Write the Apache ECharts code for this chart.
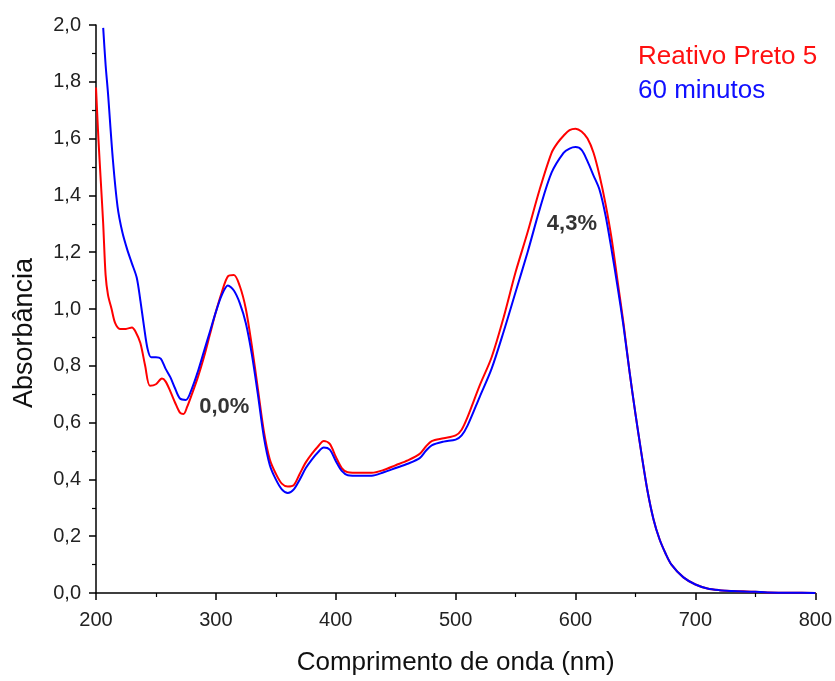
<!DOCTYPE html>
<html>
<head>
<meta charset="utf-8">
<script src="https://cdn.jsdelivr.net/npm/echarts@6/dist/echarts.min.js"></script>
<style>html,body{margin:0;padding:0;background:#fff}#c{width:835px;height:681px}</style>
</head>
<body>
<div id="c"></div>
<script>
const seriesNames = ['Reativo Preto 5', '60 minutos'];
const xTicks = [200, 300, 400, 500, 600, 700, 800];
const yTicks = [0, 0.2, 0.4, 0.6, 0.8, 1.0, 1.2, 1.4, 1.6, 1.8, 2.0];

const wlRed = [200,202,204,206,208,210,213,216,220,225,230,233,237,241,245,250,255,258,262,266,270,273,276,280,285,290,295,300,305,310,315,320,325,330,335,340,345,350,355,360,365,370,375,380,385,390,395,400,405,410,420,430,440,450,460,470,475,480,490,500,505,510,520,530,540,550,560,570,580,585,590,595,600,605,610,615,620,625,630,635,640,645,650,655,660,665,670,675,680,690,700,710,720,730,740,750,760,780,800];
const absRed = [1.78,1.60,1.45,1.30,1.12,1.05,1.00,0.95,0.93,0.93,0.935,0.92,0.88,0.80,0.73,0.735,0.755,0.745,0.71,0.67,0.635,0.63,0.655,0.70,0.76,0.83,0.91,0.99,1.06,1.115,1.12,1.08,1.00,0.87,0.72,0.57,0.47,0.42,0.385,0.375,0.38,0.42,0.46,0.49,0.515,0.535,0.525,0.48,0.44,0.425,0.423,0.423,0.433,0.45,0.467,0.49,0.515,0.535,0.545,0.555,0.575,0.62,0.73,0.83,0.97,1.13,1.27,1.42,1.55,1.585,1.61,1.63,1.635,1.625,1.60,1.55,1.47,1.37,1.25,1.10,0.95,0.78,0.63,0.49,0.36,0.26,0.19,0.14,0.10,0.055,0.03,0.016,0.01,0.007,0.006,0.004,0.002,0.001,0.0];

const wlBlue = [206,208,210,214,218,222,226,230,234,237,240,243,246,250,254,258,262,266,270,275,280,285,290,295,300,305,310,315,320,325,330,335,340,345,350,355,360,365,370,375,380,385,390,395,400,405,410,420,430,440,450,460,470,475,480,490,500,505,510,520,530,540,550,560,570,580,590,595,600,605,610,615,620,625,630,635,640,645,650,655,660,665,670,675,680,690,700,710,720,730,740,750,760,780,800];
const absBlue = [1.99,1.86,1.76,1.53,1.36,1.27,1.21,1.16,1.11,1.03,0.94,0.86,0.83,0.83,0.825,0.79,0.76,0.72,0.685,0.68,0.72,0.78,0.85,0.92,0.99,1.05,1.083,1.065,1.02,0.95,0.84,0.70,0.55,0.45,0.40,0.365,0.352,0.365,0.40,0.44,0.47,0.495,0.512,0.505,0.465,0.43,0.415,0.413,0.413,0.425,0.44,0.455,0.475,0.50,0.52,0.533,0.54,0.555,0.59,0.69,0.79,0.92,1.06,1.20,1.35,1.48,1.55,1.565,1.57,1.56,1.52,1.47,1.42,1.33,1.21,1.08,0.94,0.78,0.63,0.49,0.36,0.26,0.19,0.14,0.10,0.055,0.03,0.016,0.01,0.007,0.005,0.004,0.002,0.001,0.0];

const annoX = [307, 597];
const annoY = [0.655, 1.30];
const annoText = ['0,0%', '4,3%'];

const pairs = (xs, ys) => xs.map((x, i) => [x, ys[i]]);
const fmt = v => v.toFixed(1).replace('.', ',');
const FONT = 'Liberation Sans, Arial, sans-serif';

const chart = echarts.init(document.getElementById('c'), null, {renderer: 'canvas'});
chart.setOption({
  animation: false,
  backgroundColor: '#ffffff',
  grid: {left: 96, right: 18, top: 25, bottom: 85, containLabel: false},
  legend: {
    data: [
      {name: seriesNames[0], textStyle: {color: '#ff1010'}},
      {name: seriesNames[1], textStyle: {color: '#1010ff'}}
    ],
    orient: 'vertical', left: 632, top: 44, padding: 0,
    itemWidth: 0, itemHeight: 0, itemGap: 8,
    selectedMode: false,
    textStyle: {fontSize: 26, fontFamily: FONT}
  },
  xAxis: {
    type: 'value', min: xTicks[0], max: xTicks[xTicks.length - 1], interval: 100,
    name: 'Comprimento de onda (nm)', nameLocation: 'middle', nameGap: 57,
    nameTextStyle: {fontSize: 26, color: '#111', fontFamily: FONT},
    axisLine: {lineStyle: {color: '#000', width: 1.5}},
    axisTick: {show: true, inside: false, length: 7, lineStyle: {color: '#000', width: 1.5}},
    minorTick: {show: true, splitNumber: 2, length: 4, lineStyle: {color: '#000', width: 1.2}},
    axisLabel: {fontSize: 20, color: '#222', margin: 17, fontFamily: FONT},
    splitLine: {show: false}
  },
  yAxis: {
    type: 'value', min: yTicks[0], max: yTicks[yTicks.length - 1], interval: 0.2,
    name: 'Absorbância', nameLocation: 'middle', nameGap: 58, nameRotate: 90,
    nameTextStyle: {fontSize: 27, color: '#111', fontFamily: FONT, padding: [0, 48, 0, 0]},
    axisLine: {show: true, lineStyle: {color: '#000', width: 1.5}},
    axisTick: {show: true, inside: false, length: 7, lineStyle: {color: '#000', width: 1.5}},
    minorTick: {show: true, splitNumber: 2, length: 4, lineStyle: {color: '#000', width: 1.2}},
    axisLabel: {fontSize: 20, color: '#222', margin: 15, formatter: fmt, fontFamily: FONT},
    splitLine: {show: false}
  },
  series: [
    {
      name: seriesNames[0], type: 'line', data: pairs(wlRed, absRed),
      showSymbol: false, smooth: 0.3, clip: true,
      lineStyle: {color: '#ff0000', width: 2}, itemStyle: {color: '#ff0000'}
    },
    {
      name: seriesNames[1], type: 'line', data: pairs(wlBlue, absBlue),
      showSymbol: false, smooth: 0.3, clip: true,
      lineStyle: {color: '#0000ff', width: 2}, itemStyle: {color: '#0000ff'}
    },
    {
      name: 'anotacoes', type: 'scatter', symbolSize: 0,
      data: annoX.map((x, i) => [x, annoY[i], annoText[i]]),
      label: {
        show: true, position: 'inside',
        formatter: p => p.value[2],
        fontSize: 22, fontWeight: 'bold', color: '#000',
        textBorderWidth: 0, fontFamily: FONT
      },
      silent: true
    }
  ]
});
</script>
</body>
</html>
